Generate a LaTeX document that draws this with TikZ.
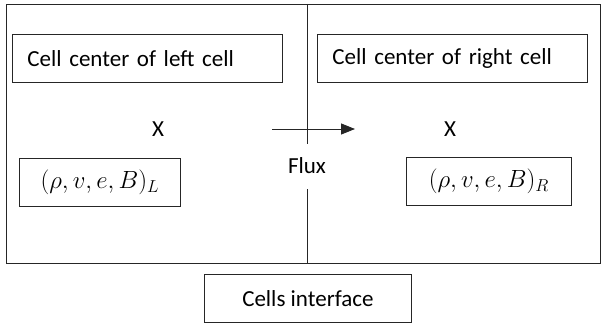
\documentclass[tikz,border=0pt]{standalone}
\usepackage{fontspec}
\setmainfont{Carlito}
\usetikzlibrary{arrows.meta}
\begin{document}
\begin{tikzpicture}[x=1pt,y=-1pt,
  every node/.style={font=\fontsize{23}{27}\selectfont},
  ln/.style={line width=0.8pt,draw=black!85},
  labelbox/.style={ln,draw,rectangle,minimum height=48pt,text width=240pt,inner xsep=15pt,align=left},
  mathbox/.style={ln,draw,rectangle,minimum height=48pt},
]
\useasboundingbox (0,0) rectangle (601,326);
% outer frame and divider
\draw[ln] (6,4) rectangle (600,263);
\coordinate (dtop) at (307,4);
\coordinate (dbot) at (307,263);
\draw[ln] (dtop) -- (dbot);
\node[fill=white,minimum height=45pt,inner xsep=2pt] (flux) at (307,166) {Flux};
% arrow
\coordinate (fs) at (272,129);
\coordinate (fe) at (355,129);
\draw[ln,-{Triangle[length=14pt,width=11pt]}] (fs) -- (fe);
% top boxes
\node[labelbox,minimum width=270pt,anchor=north west] (lc) at (12,34) {Cell center of left cell};
\node[labelbox,minimum width=270pt,anchor=north west] (rc) at (317,34) {Cell center of right cell};
% X marks
\node (xl) at (158,129) {X};
\node (xr) at (450,129) {X};
% state boxes
\node[mathbox,minimum width=161pt,anchor=north west] (sl) at (19,158) {$(\rho,v,e,B)_L$};
\node[mathbox,minimum width=165pt,anchor=north west] (sr) at (406,157) {$(\rho,v,e,B)_R$};
% interface box
\node[mathbox,minimum width=207pt,anchor=north west] (ci) at (204,274) {Cells interface};
\end{tikzpicture}
\end{document}
